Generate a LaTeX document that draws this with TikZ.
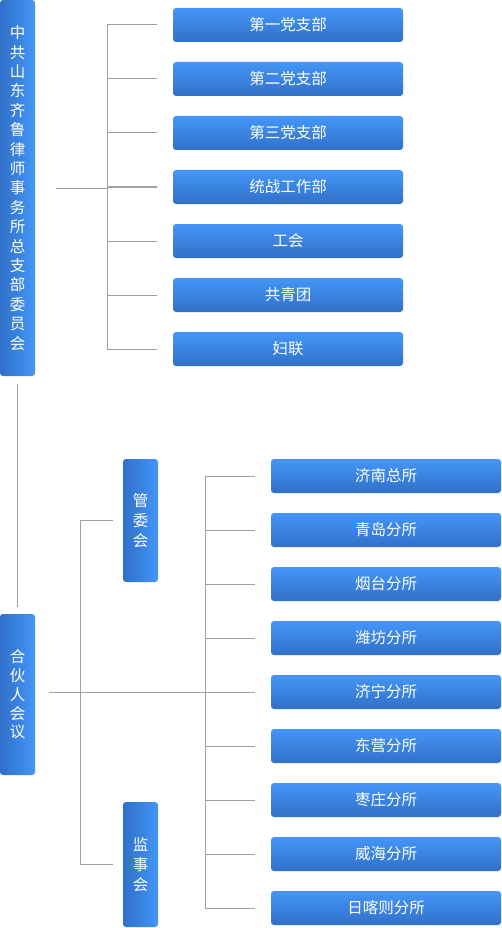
\documentclass[tikz,border=0pt]{standalone}
\usepackage{fontspec}
\setmainfont{Noto Sans CJK SC}
\usetikzlibrary{calc}
\definecolor{boxlight}{RGB}{68,150,248}
\definecolor{boxdark}{RGB}{48,112,200}
\definecolor{linkgray}{RGB}{160,160,160}
\tikzset{
    org box/.style={
        rounded corners=3pt,
        inner sep=0pt,
        text=white,
        align=center
    },
    wide box/.style={
        org box,
        top color=boxlight,
        bottom color=boxdark,
        minimum width=230,
        minimum height=34,
        font=\fontsize{15.5}{18}\selectfont
    },
    tall box/.style={
        org box,
        left color=boxdark,
        right color=boxlight,
        minimum width=35,
        font=\fontsize{15.5}{20}\selectfont
    },
    link/.style={
        draw=linkgray,
        line width=1pt
    }
}

\begin{document}
\begin{tikzpicture}[x=1pt,y=-1pt]
    \useasboundingbox (0,0) rectangle (501,928);
    % party side
    \node[tall box, minimum height=376, font=\fontsize{15.5}{19.4}\selectfont] (party) at (17.5,188)
        {中\\共\\山\\东\\齐\\鲁\\律\\师\\事\\务\\所\\总\\支\\部\\委\\员\\会};
    \foreach \name [count=\i] in {第一党支部,第二党支部,第三党支部,统战工作部,工会,共青团,妇联}
        \node[wide box] (dept\i) at (288,{25+54*(\i-1)}) {\name};
    \coordinate (ptrunk) at (107,0);
    \draw[link] (ptrunk |- dept1.west) -- (ptrunk |- dept7.west);
    \foreach \i in {1,...,7}
        \draw[link] (ptrunk |- dept\i.west) -- ([xshift=-16]dept\i.west);
    \draw[link] ([xshift=21]party.east) -- (ptrunk |- party.east);
    % partners side
    \node[tall box, minimum height=161, font=\fontsize{15.5}{18.75}\selectfont] (council) at (17.5,694.5)
        {合\\伙\\人\\会\\议};
    \draw[link] ([yshift=-8]party.south) -- ([yshift=7]council.north);
    \node[tall box, minimum height=123] (mgmt) at (140.5,520.5) {管\\委\\会};
    \node[tall box, minimum height=125] (supv) at (140.5,864.5) {监\\事\\会};
    \foreach \name [count=\i] in {济南总所,青岛分所,烟台分所,潍坊分所,济宁分所,东营分所,枣庄分所,威海分所,日喀则分所}
        \node[wide box] (office\i) at (386,{476+54*(\i-1)}) {\name};
    \coordinate (mtrunk) at (80,0);
    \coordinate (otrunk) at (205,0);
    \draw[link] ([xshift=14]council.east |- office5.west) -- ([xshift=-16]office5.west);
    \draw[link] (mtrunk |- mgmt.west) -- (mtrunk |- supv.west);
    \draw[link] (mtrunk |- mgmt.west) -- ([xshift=-10]mgmt.west);
    \draw[link] (mtrunk |- supv.west) -- ([xshift=-10]supv.west);
    \draw[link] (otrunk |- office1.west) -- (otrunk |- office9.west);
    \foreach \i in {1,...,9}
        \draw[link] (otrunk |- office\i.west) -- ([xshift=-16]office\i.west);
\end{tikzpicture}
\end{document}
